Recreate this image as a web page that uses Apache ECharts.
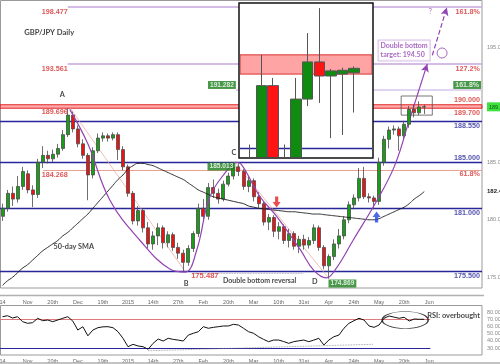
<!DOCTYPE html>
<html><head><meta charset="utf-8">
<script src="https://cdn.jsdelivr.net/npm/echarts@6.0.0/dist/echarts.min.js"></script>
<style>html,body{margin:0;padding:0;background:#fff}#wrap{position:relative;width:500px;height:364px}#c{position:absolute;left:0;top:0;width:500px;height:364px}#inset{position:absolute;left:240px;top:4px;width:132px;height:153px;overflow:hidden}</style>
</head><body><div id="wrap"><div id="c"></div><div id="inset"></div></div>
<script>
// ---- data ----
const tickLabels = ["14","Nov","20th","Dec","19th","2015","14th","27th","Feb","20th","Mar","10th","31st","Apr","24th","May","20th","Jun"];
const slotCount = 96;
const open = [180.3,181.0,182.3,181.8,182.9,184.0,182.6,182.2,185.0,185.6,
 185.3,185.7,186.2,187.4,189.1,187.9,186.6,185.6,183.9,186.0,
 187.1,187.3,187.1,187.4,186.1,184.6,182.3,179.9,180.8,179.3,
 177.9,178.6,179.3,178.0,178.7,177.6,177.1,176.3,177.5,178.8,
 181.0,180.3,182.8,182.3,181.8,183.1,183.8,184.6,184.2,182.9,
 183.4,182.0,181.4,179.8,180.2,179.0,179.4,178.2,178.8,177.7,
 178.3,177.8,178.2,179.3,177.6,176.0,176.8,177.9,178.6,180.0,
 181.3,181.9,183.6,182.0,181.9,181.6,185.0,187.0,187.8,187.9,
 187.3,188.3,189.6,189.3,189.8];
const close = [181.0,182.3,181.8,182.9,184.2,182.6,182.2,185.0,185.6,185.3,
 185.7,186.2,187.4,189.1,187.9,186.6,185.6,183.9,186.0,187.1,
 187.3,187.1,187.4,186.1,184.6,182.3,179.9,180.8,179.3,177.9,
 178.6,179.3,178.0,178.7,177.6,177.1,176.3,177.5,178.8,181.0,
 180.3,182.8,182.3,181.8,183.1,183.8,184.6,184.2,182.9,183.4,
 182.0,181.4,179.8,180.2,179.0,179.4,178.2,178.8,177.7,178.3,
 177.8,178.2,179.3,177.6,176.0,176.8,177.9,178.6,180.0,181.3,
 181.9,183.6,182.0,181.9,181.6,185.0,187.0,187.8,187.9,187.3,
 188.3,189.6,189.3,189.8,189.82];
const low = [179.9,180.7,181.2,181.5,182.6,182.3,181.1,181.9,184.5,184.9,
 185.0,185.4,186.0,187.2,187.6,186.3,185.3,181.7,183.6,185.8,
 186.8,186.8,186.9,185.2,184.3,182.0,179.6,179.5,178.9,177.5,
 177.4,177.8,177.5,177.6,177.3,176.6,175.487,176.0,177.2,178.5,
 179.8,180.0,181.9,181.4,181.6,182.9,183.5,183.8,182.6,182.4,
 181.6,181.0,179.5,179.1,178.5,178.3,177.9,177.6,177.4,177.1,
 177.4,177.5,177.9,177.3,175.7,174.869,176.5,177.5,178.3,179.7,
 180.9,181.6,181.8,181.5,180.9,181.3,184.7,186.2,187.4,186.0,
 187.0,188.0,188.9,189.1,189.2];
const high = [181.4,182.6,182.9,183.8,184.6,184.3,183.0,185.3,186.4,186.0,
 186.1,186.6,187.8,189.696,189.4,188.2,187.0,185.8,186.3,187.5,
 187.6,187.5,187.6,187.6,186.4,184.8,182.5,181.2,181.0,179.8,
 179.0,179.7,179.5,179.0,178.9,178.0,177.4,177.8,179.0,181.4,
 181.8,183.2,183.5,182.7,183.4,184.1,185.013,184.9,184.4,183.8,
 183.6,182.4,181.6,180.5,180.4,179.8,179.6,179.2,179.0,178.6,
 178.7,178.5,179.6,179.5,177.8,177.0,178.3,179.2,180.3,181.6,
 182.2,184.5,184.6,182.3,182.1,185.4,187.3,188.1,188.2,188.1,
 188.6,189.9,190.0,190.3,190.0];
const sma50 = [174.3,174.7,175.0,175.4,175.8,176.1,176.5,176.9,177.3,177.6,
 177.9,178.2,178.6,178.9,179.3,179.7,180.1,180.5,181.0,181.5,
 182.0,182.5,183.0,183.5,183.9,184.4,184.7,184.9,184.9,184.8,
 184.7,184.5,184.3,184.1,183.9,183.7,183.5,183.2,182.9,182.6,
 182.4,182.2,182.0,181.9,181.8,181.7,181.6,181.5,181.4,181.2,
 181.1,181.0,180.95,180.9,180.85,180.8,180.75,180.7,180.7,180.65,
 180.6,180.55,180.5,180.5,180.45,180.4,180.35,180.3,180.25,180.2,
 180.15,180.1,180.05,180.0,180.0,180.1,180.3,180.5,180.7,180.9,
 181.1,181.4,181.8,182.1,182.45];
const rsi14 = [73.6,75.0,71.8,73.6,66.7,64.4,65.3,71.4,68.0,69.0,
 66.7,69.0,71.4,73.6,67.5,55.0,59.7,47.0,55.0,58.3,
 59.5,59.7,58.3,52.7,43.5,31.8,35.1,32.8,31.8,28.2,
 36.5,42.5,39.7,43.5,42.0,41.0,39.7,48.0,50.5,52.7,
 59.7,57.5,58.8,59.7,60.7,60.7,63.0,62.0,57.5,52.7,
 50.5,45.7,42.0,38.8,41.1,41.1,39.0,36.5,38.8,40.0,
 41.1,38.8,41.0,43.5,34.2,41.1,45.7,48.0,57.5,64.4,
 68.0,71.4,69.0,60.7,58.8,62.0,71.4,74.6,73.0,71.4,
 72.8,67.6,70.4,70.0,70.0];
const insetOpen  = [188.2, 188.0, 189.52, 188.3, 188.2, 189.31, 189.89, 189.67, 189.70, 189.72];
const insetClose = [188.0, 189.52, 188.2, 188.1, 189.31, 189.89, 189.67, 189.75, 189.76, 189.79];
const insetLow   = [187.9, 187.8, 188.0, 187.9, 188.0, 189.2, 189.25, 188.7, 188.75, 189.1];
const insetHigh  = [188.6, 190.0, 189.64, 188.6, 189.64, 190.34, 190.73, 189.78, 189.8, 189.82];
const supportLevels = [188.55, 185.0, 181.0, 175.5];
const zoneLow = 189.7, zoneHigh = 190.0;
const fibAB = [198.477, 193.561, 184.268];
const fibCD = 191.282;
const priceAxisLabels = [175, 180, 182.45, 185, 189.82, 195];
const rsiAxisLabels = [30, 40, 50, 60, 70, 80];
const rsiLevels = [70, 30];

// ---- build ----
const categories = Array.from({length: slotCount}, (_, i) => (i % 5 === 0 && tickLabels[i / 5]) ? tickLabels[i / 5] : '');
const candleData = open.map((o, i) => [o, close[i], low[i], high[i]]);
const insetData = insetOpen.map((o, k) => [k, o, insetClose[k], insetLow[k], insetHigh[k]]);

const RED = '#d82c2c', NAVY = '#27279a', PURPLE = '#9343b3', LAV = '#c7a6de';
const NUM = {fontFamily: 'Liberation Sans', fontWeight: 'bold', fontSize: 7.2};
const ANN = {fontFamily: 'Lato', fontWeight: 'bold', fontSize: 7.3, color: '#111'};
const GBOX = {fontFamily: 'Liberation Sans', fontWeight: 'bold', fontSize: 6.6, color: '#fff', backgroundColor: '#1c7e1c', padding: [1, 2, 0, 2]};

function note(x, y, text, style) {
  return {value: [x, y], label: Object.assign({show: true, formatter: text, position: 'inside', align: 'center', verticalAlign: 'middle'}, style)};
}
const notes = [
  note(9.3, 196.25, 'GBP/JPY Daily', Object.assign({}, ANN, {fontSize: 7.6})),
  note(11.9, 190.85, 'A', ANN),
  note(13.0, 198.07, '198.477', Object.assign({}, NUM, {color: RED, align: 'right'})),
  note(13.0, 193.11, '193.561', Object.assign({}, NUM, {color: RED, align: 'right'})),
  note(13.0, 189.37, '189.696', Object.assign({}, NUM, {color: RED, align: 'right'})),
  note(13.0, 183.90, '184.268', Object.assign({}, NUM, {color: RED, align: 'right'})),
  note(14.2, 177.63, '50-day SMA', ANN),
  note(43.7, 191.72, '191.282', GBOX),
  note(43.6, 184.63, '185.013', GBOX),
  note(46.1, 185.85, 'C', ANN),
  note(40.3, 175.11, '175.487', Object.assign({}, NUM, {color: RED, fontSize: 7.6})),
  note(36.6, 174.45, 'B', ANN),
  note(51.2, 174.68, 'Double bottom reversal', Object.assign({}, ANN, {fontSize: 7})),
  note(62.2, 174.6, 'D', ANN),
  note(67.7, 174.46, '174.869', GBOX),
  note(95.1, 198.07, '161.8%', Object.assign({}, NUM, {color: RED, align: 'right'})),
  note(95.1, 193.09, '127.2%', Object.assign({}, NUM, {color: RED, align: 'right'})),
  note(95.3, 191.72, '161.8%', Object.assign({}, GBOX, {align: 'right', fontSize: 7})),
  note(95.1, 190.37, '190.000', Object.assign({}, NUM, {color: RED, align: 'right'})),
  note(95.1, 189.29, '189.700', Object.assign({}, NUM, {color: RED, align: 'right'})),
  note(95.1, 188.11, '188.550', Object.assign({}, NUM, {color: NAVY, align: 'right'})),
  note(95.1, 185.40, '185.000', Object.assign({}, NUM, {color: NAVY, align: 'right'})),
  note(95.1, 183.94, '61.8%', Object.assign({}, NUM, {color: RED, align: 'right'})),
  note(95.1, 180.55, '181.000', Object.assign({}, NUM, {color: NAVY, align: 'right'})),
  note(95.1, 175.11, '175.500', Object.assign({}, NUM, {color: NAVY, align: 'right'})),
  note(85.2, 198.07, '?', {fontFamily: 'Lato', fontSize: 7, color: PURPLE}),
  note(74.9, 194.72, 'Double bottom\ntarget: 194.50', {fontFamily: 'Lato', fontWeight: 'bold', fontSize: 7, color: PURPLE, lineHeight: 9.5, align: 'left', backgroundColor: '#fff', borderColor: '#cdb0e0', borderWidth: 1, padding: [1, 2, 0, 2]})
];

const arcAB = [[13.4,189.6],[17.0,186.6],[21.4,181.7],[27.4,178.2],[33.4,175.7],[36.4,175.45],[38.7,177.4],[41.3,182.0],[44.7,184.3],[46.3,185.0]];
const arcCD = [[46.3,185.0],[47.6,184.8],[51.3,182.0],[54.6,180.3],[59.3,177.4],[62.0,175.6],[64.5,174.95],[66.5,175.8],[69.8,178.2],[74.6,181.7],[78.0,184.6],[80.4,187.8]];

const hiddenPt = [[-50, 180]];
const lineOnly = (color, width, type) => ({color, width, type: type || 'solid'});

const option = {
  animation: false,
  backgroundColor: '#fff',
  textStyle: {fontFamily: 'Liberation Sans'},
  grid: [
    {left: 0, top: 1, width: 482, height: 287, outerBoundsMode: 'none', containLabel: false},
    {left: 0, top: 305, width: 482, height: 50, outerBoundsMode: 'none', containLabel: false}
  ],
  xAxis: [
    {type: 'category', gridIndex: 0, data: categories, boundaryGap: true, axisLine: {show: false}, axisTick: {show: false}, splitLine: {show: false},
     axisLabel: {interval: 0, fontSize: 5.5, color: '#666', margin: 11}},
    {type: 'value', gridIndex: 0, min: -0.5, max: slotCount - 0.5, show: false},
    {type: 'category', gridIndex: 1, data: categories, boundaryGap: true, axisLine: {show: false}, axisTick: {show: false}, splitLine: {show: false},
     axisLabel: {interval: 0, fontSize: 5.5, color: '#666', margin: 3}},
    {type: 'value', gridIndex: 1, min: -0.5, max: slotCount - 0.5, show: false}
  ],
  yAxis: [
    {type: 'value', gridIndex: 0, min: 174.07, max: 199.02, position: 'right', axisLine: {show: false}, axisTick: {show: false}, splitLine: {show: false},
     axisLabel: {customValues: priceAxisLabels, fontSize: 5.5, color: '#888', margin: 5,
       formatter: v => v === 182.45 ? '{b|182.45}' : (v === 189.82 ? '{g|189.82}' : v.toFixed(2)),
       rich: {b: {fontSize: 6, fontWeight: 'bold', color: '#222'}, g: {fontSize: 5.5, color: '#0a5a0a', backgroundColor: '#3fe03f', padding: [2, 3, 1, 2]}}}},
    {type: 'value', gridIndex: 1, min: 20.24, max: 89.93, position: 'right', axisLine: {show: false}, axisTick: {show: false}, splitLine: {show: false},
     axisLabel: {customValues: rsiAxisLabels, fontSize: 5.5, color: '#888', margin: 5, formatter: v => v.toFixed(4)}}
  ],
  graphic: [
    {type: 'rect', z: 1, shape: {x: 0.5, y: 0.5, width: 481.5, height: 287.5}, style: {fill: 'none', stroke: '#9a9a9a', lineWidth: 1}},
    {type: 'line', z: 1, shape: {x1: 0, y1: 295.5, x2: 484, y2: 295.5}, style: {stroke: '#b0b0b0', lineWidth: 1.5}},
    {type: 'rect', z: 1, shape: {x: 0.5, y: 305.5, width: 481.5, height: 49.5}, style: {fill: 'none', stroke: '#9a9a9a', lineWidth: 1}},
    {type: 'line', z: 1, shape: {x1: 0, y1: 363, x2: 500, y2: 363}, style: {stroke: '#b0b0b0', lineWidth: 1.5}},
    {type: 'rect', z: 50, shape: {x: 239, y: 3, width: 134, height: 155}, style: {fill: '#fff', stroke: '#111', lineWidth: 1.5}}
  ],
  series: [
    {type: 'line', name: 'levels', xAxisIndex: 1, yAxisIndex: 0, z: 3, data: hiddenPt, symbol: 'none', silent: true,
     markArea: {silent: true, itemStyle: {color: 'rgba(255,70,70,0.45)', borderColor: '#e02424', borderWidth: 1},
       data: [[{yAxis: zoneLow}, {yAxis: zoneHigh}]]},
     markLine: {silent: true, symbol: 'none', label: {show: false},
       data: [
         ...supportLevels.map(v => ({yAxis: v, lineStyle: lineOnly(NAVY, 1.3)})),
         [{coord: [13.0, fibAB[0]], lineStyle: lineOnly(LAV, 1.5)}, {coord: [95.5, fibAB[0]]}],
         [{coord: [13.0, fibAB[1]], lineStyle: lineOnly(LAV, 1.5)}, {coord: [95.5, fibAB[1]]}],
         [{coord: [8.1, fibAB[2]], lineStyle: lineOnly('#e8a092', 1)}, {coord: [95.5, fibAB[2]]}],
         [{coord: [46.5, fibCD], lineStyle: lineOnly('#d6c6ec', 1.5)}, {coord: [95.5, fibCD]}],
         [{coord: [13.5, 189.7], lineStyle: lineOnly('#eaa39a', 0.7)}, {coord: [36.4, 175.5]}],
         [{coord: [46.3, 185.0], lineStyle: lineOnly('#eaa39a', 0.7)}, {coord: [65.0, 174.9]}],
         [{coord: [37.8, 175.35], lineStyle: lineOnly('#999', 0.8, 'dotted')}, {coord: [59.9, 175.35]}]
       ]}},
    {type: 'candlestick', name: 'GBP/JPY', xAxisIndex: 0, yAxisIndex: 0, z: 5, data: candleData, barWidth: '70%',
     itemStyle: {color: '#17a017', color0: '#f01212', borderColor: '#4a4a4a', borderColor0: '#4a4a4a', borderWidth: 0.8}},
    {type: 'line', name: 'SMA50', xAxisIndex: 0, yAxisIndex: 0, z: 6, data: sma50, symbol: 'none', smooth: true,
     lineStyle: {color: '#1a1a1a', width: 0.9}},
    {type: 'line', name: 'arcAB', xAxisIndex: 1, yAxisIndex: 0, z: 7, data: arcAB, symbol: 'none', smooth: 0.4, lineStyle: {color: PURPLE, width: 1.2}},
    {type: 'line', name: 'arcCD', xAxisIndex: 1, yAxisIndex: 0, z: 7, data: arcCD, symbol: 'none', smooth: 0.4, lineStyle: {color: PURPLE, width: 1.2},
     markLine: {silent: true, label: {show: false}, symbolSize: [6, 8],
       data: [
         [{coord: [80.4, 187.8], symbol: 'none', lineStyle: lineOnly(PURPLE, 1.2)}, {coord: [84.6, 193.55], symbol: 'arrow'}],
         [{coord: [85.6, 194.3], symbol: 'none', lineStyle: lineOnly(PURPLE, 1.2, 'dashed')}, {coord: [88.5, 198.45], symbol: 'arrow'}]
       ]},
     markArea: {silent: true, itemStyle: {color: 'rgba(0,0,0,0)', borderColor: '#555', borderWidth: 0.8},
       data: [[{coord: [79.4, 190.76]}, {coord: [85.6, 189.1]}]]}},
    {type: 'scatter', name: 'markers', xAxisIndex: 1, yAxisIndex: 0, z: 9, silent: true,
     data: [
       {value: [54.6, 181.55], symbol: 'path://M3,0L7,0L7,6L10,6L5,12L0,6L3,6Z', symbolSize: [8, 11], itemStyle: {color: '#e82020'}},
       {value: [74.5, 180.24], symbol: 'path://M3,12L7,12L7,6L10,6L5,0L0,6L3,6Z', symbolSize: [8, 11], itemStyle: {color: '#1f44e0'}},
       {value: [87.55, 194.5], symbol: 'circle', symbolSize: 10, itemStyle: {color: 'rgba(0,0,0,0)', borderColor: PURPLE, borderWidth: 1}}
     ]},
    {type: 'scatter', name: 'notes', xAxisIndex: 1, yAxisIndex: 0, z: 70, silent: true, symbolSize: 1,
     itemStyle: {color: 'rgba(0,0,0,0)'}, data: notes},
    {type: 'line', name: 'RSI', xAxisIndex: 2, yAxisIndex: 1, z: 6, data: rsi14, symbol: 'none', lineStyle: {color: '#111', width: 1}},
    {type: 'scatter', name: 'rsiNotes', xAxisIndex: 3, yAxisIndex: 1, z: 7, silent: true,
     data: [
       {value: [80.2, 69.0], symbol: 'circle', symbolSize: [46, 17], itemStyle: {color: 'rgba(0,0,0,0)', borderColor: '#111', borderWidth: 1}},
       {value: [84.6, 75.3], symbolSize: 1, itemStyle: {color: 'rgba(0,0,0,0)'},
        label: {show: true, position: 'inside', align: 'left', verticalAlign: 'middle', formatter: 'RSI: overbought', fontFamily: 'Lato', fontWeight: 'bold', fontSize: 7.4, color: '#111'}}
     ],
     markLine: {silent: true, symbol: 'none', label: {show: false},
       data: [
         [{coord: [-0.5, rsiLevels[0]], lineStyle: lineOnly('#e07a7a', 1)}, {coord: [85.2, rsiLevels[0]]}],
         [{coord: [-0.5, rsiLevels[1]], lineStyle: lineOnly(NAVY, 1.2)}, {coord: [85.2, rsiLevels[1]]}],
         [{coord: [29.0, 26.2], lineStyle: lineOnly('#888', 0.8, 'dotted')}, {coord: [73.8, 35.2]}]
       ]}}
  ]
};
const chart = echarts.init(document.getElementById('c'), null, {renderer: 'canvas', width: 500, height: 364});
chart.setOption(option);

// ---- inset: magnified view of the latest candles ----
const insetOption = {
  animation: false,
  grid: {left: 0, top: 0, width: 132, height: 153, outerBoundsMode: 'none', containLabel: false},
  xAxis: {type: 'value', min: -0.866, max: 10.563, show: false},
  yAxis: {type: 'value', min: 188.406, max: 190.794, show: false},
  series: [
    {type: 'line', name: 'insetZone', z: 1, data: [[-5, 189]], symbol: 'none', silent: true,
     markArea: {z: 1, silent: true, itemStyle: {color: 'rgba(255,90,90,0.55)', borderColor: '#d83030', borderWidth: 1},
       data: [[{yAxis: zoneLow}, {yAxis: zoneHigh}]]},
     markLine: {z: 2, silent: true, symbol: 'none', label: {show: false}, data: [{yAxis: supportLevels[0], lineStyle: lineOnly(NAVY, 1.3)}]}},
    {type: 'candlestick', name: 'inset', z: 5, data: insetData, encode: {x: 0, y: [1, 2, 3, 4]}, barWidth: 11,
     itemStyle: {color: '#0f8c0f', color0: '#ff1414', borderColor: '#555', borderColor0: '#555', borderWidth: 1}}
  ]
};
const insetChart = echarts.init(document.getElementById('inset'), null, {renderer: 'canvas', width: 132, height: 153});
insetChart.setOption(insetOption);
</script></body></html>
